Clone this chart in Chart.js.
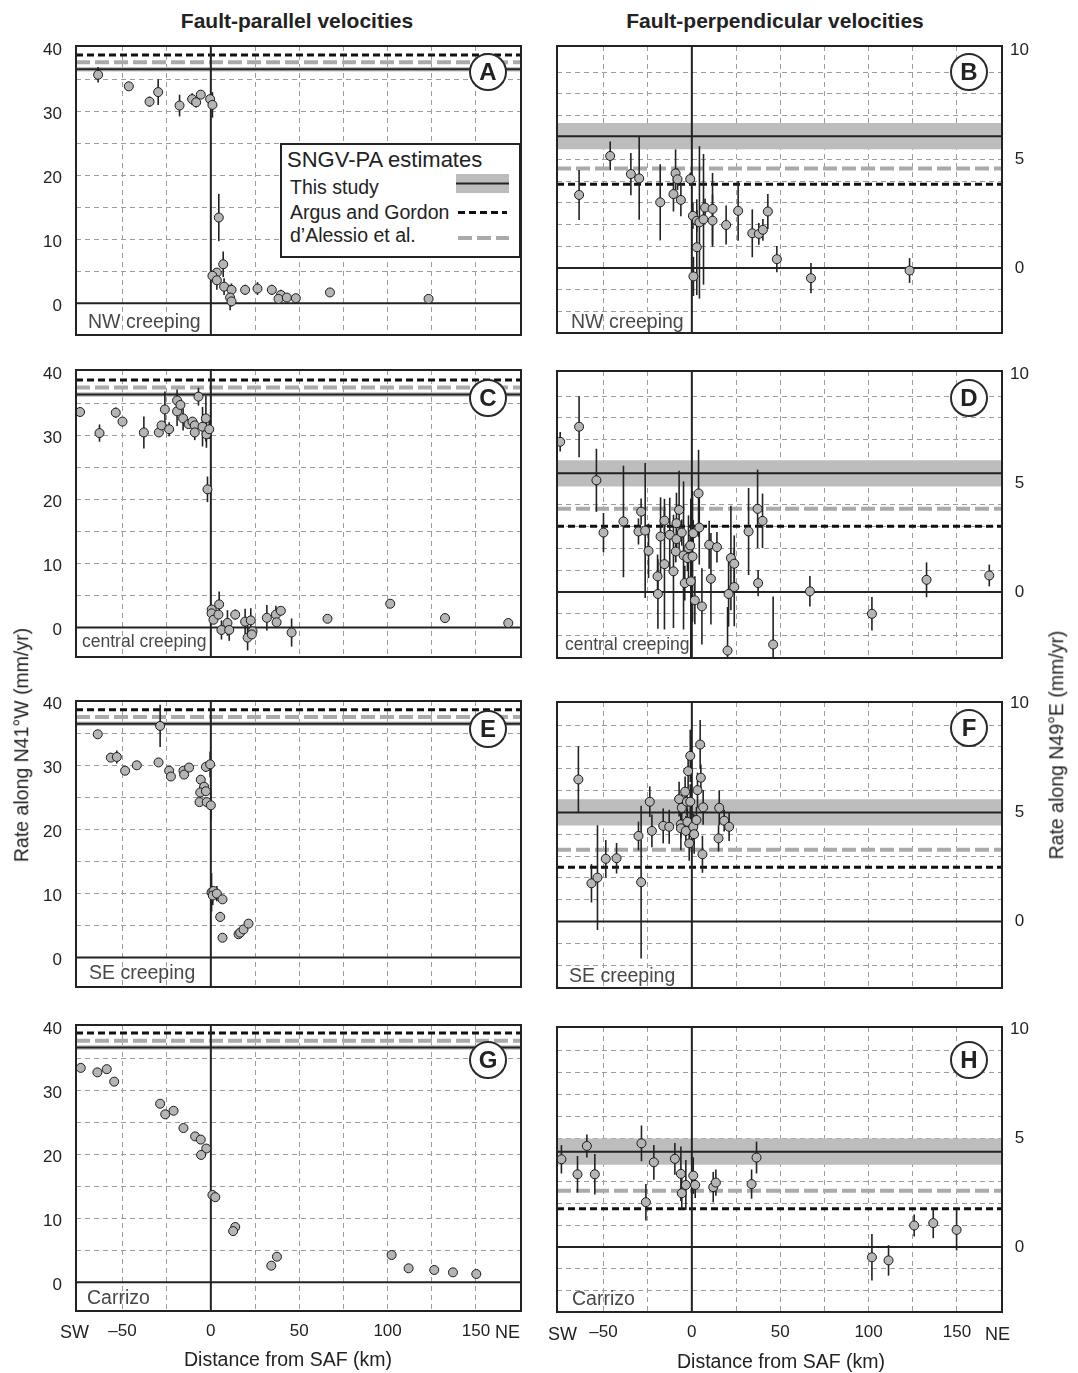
<!DOCTYPE html>
<html>
<head>
<meta charset="utf-8">
<script src="https://cdn.jsdelivr.net/npm/chart.js@4.4.1/dist/chart.umd.min.js"></script>
<style>
  body { margin: 0; background: #fff; width: 1078px; height: 1373px; position: relative; overflow: hidden;
         font-family: "Liberation Sans", Arial, sans-serif; color: #222; }
  canvas { position: absolute; z-index: 0; }
  .t { position: absolute; white-space: nowrap; line-height: 1; z-index: 2; }
  .title { font-weight: bold; font-size: 21px; transform: translate(-50%, -50%); }
  .ytitle { font-size: 19.5px; transform: translate(-50%, -50%) rotate(-90deg); }
  .xtitle { font-size: 19.5px; transform: translate(-50%, -50%); }
  .region { font-size: 19.5px; color: #484848; transform: translateY(-50%); }
  .dir { font-size: 18px; transform: translateY(-50%); }
  .badge { position: absolute; width: 34px; height: 34px; border: 2px solid #2a2a2a; border-radius: 50%;
           background: #fff; z-index: 2; transform: translate(-50%, -50%); font-weight: bold; font-size: 24px;
           display: flex; align-items: center; justify-content: center; }
  .legbox { position: absolute; left: 280px; top: 143px; width: 241px; height: 115px; box-sizing: border-box;
            border: 2px solid #222; background: #fff; z-index: 2; }
  .leg { font-size: 19.5px; transform: translateY(-50%); }
</style>
</head>
<body>

<div class="t title" style="left:297px;top:20px">Fault-parallel velocities</div>
<div class="t title" style="left:775px;top:20px">Fault-perpendicular velocities</div>
<div class="t ytitle" style="left:22px;top:745px">Rate along N41°W (mm/yr)</div>
<div class="t ytitle" style="left:1057px;top:745px">Rate along N49°E (mm/yr)</div>
<div class="t xtitle" style="left:288px;top:1360px">Distance from SAF (km)</div>
<div class="t xtitle" style="left:781px;top:1362px">Distance from SAF (km)</div>
<div class="t dir" style="left:60px;top:1332px">SW</div>
<div class="t dir" style="left:495px;top:1332px">NE</div>
<div class="t dir" style="left:548px;top:1334px">SW</div>
<div class="t dir" style="left:985px;top:1334px">NE</div>

<div class="t region" style="left:88px;top:322px">NW creeping</div>
<div class="t region" style="left:82px;top:642px;font-size:17.5px">central creeping</div>
<div class="t region" style="left:89px;top:973px">SE creeping</div>
<div class="t region" style="left:87px;top:1298px">Carrizo</div>
<div class="t region" style="left:571px;top:322px">NW creeping</div>
<div class="t region" style="left:565px;top:645px;font-size:17.5px">central creeping</div>
<div class="t region" style="left:569px;top:976px">SE creeping</div>
<div class="t region" style="left:572px;top:1299px">Carrizo</div>

<div class="badge" style="left:488px;top:72px">A</div>
<div class="badge" style="left:488px;top:398px">C</div>
<div class="badge" style="left:488px;top:729px">E</div>
<div class="badge" style="left:488px;top:1060px">G</div>
<div class="badge" style="left:969px;top:72px">B</div>
<div class="badge" style="left:969px;top:398px">D</div>
<div class="badge" style="left:969px;top:728px">F</div>
<div class="badge" style="left:969px;top:1060px">H</div>

<div class="legbox"></div>
<div class="t leg" style="left:287px;top:160px;font-size:22px">SNGV-PA estimates</div>
<div class="t leg" style="left:290px;top:188px">This study</div>
<div class="t leg" style="left:290px;top:213px">Argus and Gordon</div>
<div class="t leg" style="left:290px;top:236px">d’Alessio et al.</div>
<svg style="position:absolute;left:456px;top:172px;z-index:3" width="54" height="72">
  <rect x="0" y="2" width="53" height="19" fill="#bcbcbc"/>
  <line x1="0" y1="11.5" x2="53" y2="11.5" stroke="#222" stroke-width="2"/>
  <line x1="2" y1="40.5" x2="51" y2="40.5" stroke="#111" stroke-width="3" stroke-dasharray="7,4"/>
  <line x1="2" y1="66" x2="53" y2="66" stroke="#aaa" stroke-width="4" stroke-dasharray="14,5"/>
</svg>

<script>
// x axis (distance from SAF, km), shared by all panels
const xRange = [-76.3, 175.5];
const xTicks = [-50, -25, 0, 25, 50, 75, 100, 125, 150];
const xLabels = [-50, 0, 50, 100, 150];
const yLeftTicks = [0, 5, 10, 15, 20, 25, 30, 35, 40];
const yLeftLabels = [0, 10, 20, 30, 40];
const yRightTicks = [-2, -1, 0, 1, 2, 3, 4, 5, 6, 7, 8, 9, 10];
const yRightLabels = [0, 5, 10];

// SNGV-PA estimates per panel: A C E G (parallel), B D F H (perpendicular)
const parStudy = [36.56, 36.45, 36.56, 36.7];
const parArgus = [38.8, 38.7, 38.75, 38.95];
const parDAlessio = [37.66, 37.55, 37.6, 37.75];
const parBand = 0.35;
const perpStudy = [6.06, 5.45, 5.0, 4.38];
const perpArgus = [3.85, 3.02, 2.48, 1.76];
const perpDAlessio = [4.58, 3.82, 3.29, 2.58];
const perpBand = 0.6;

// A: NW creeping, fault-parallel
const aKm   = [-63.8, -46.4, -34.7, -29.8, -17.7, -10.6, -8.3, -5.7, -0.4, 0.9, 4.5, 7.0, 3.4, 0.9, 3.4, 7.5, 11.7, 10.9, 11.7, 19.4, 26.4, 34.5, 39.6, 38.3, 43.0, 48.1, 67.4, 123.2];
const aRate = [35.7, 33.9, 31.5, 33.0, 30.9, 31.9, 31.4, 32.6, 31.9, 31.0, 13.4, 6.1, 4.8, 4.3, 3.6, 2.6, 2.1, 0.9, 0.3, 2.1, 2.3, 2.1, 1.3, 0.7, 0.9, 0.8, 1.7, 0.7];
const aErr  = [1.2, 0, 0.8, 2.0, 1.7, 0.9, 0.8, 0.5, 0.5, 2.0, 3.7, 2.0, 0.5, 0.5, 1.5, 1.3, 1.0, 2.0, 0.8, 0.8, 1.0, 0.8, 0.8, 0, 0.5, 0.5, 0, 0];

// B: NW creeping, fault-perpendicular
const bKm   = [-63.8, -46.2, -34.5, -29.8, -17.9, -10.4, -9.2, -8.1, -6.2, -0.9, 0.6, 2.8, 2.8, 0.9, 4.3, 6.6, 7.5, 11.7, 11.7, 19.4, 26.2, 34.2, 37.9, 40.2, 43.0, 48.1, 67.4, 123.2];
const bRate = [3.36, 5.15, 4.32, 4.12, 3.02, 3.40, 4.35, 4.08, 3.13, 4.09, 2.40, 2.17, 0.96, -0.38, 2.10, 2.24, 2.78, 2.72, 2.18, 1.98, 2.63, 1.60, 1.57, 1.76, 2.60, 0.41, -0.46, -0.11];
const bErr  = [1.15, 0.66, 0.97, 1.9, 1.75, 0.8, 1.1, 0.5, 0.75, 0.3, 0.6, 0.5, 2.2, 0.9, 3.5, 3.0, 0.4, 1.65, 1.2, 0.9, 1.37, 1.1, 0.5, 0.5, 0.8, 0.6, 0.7, 0.57];

// C: central creeping, fault-parallel
const cKm   = [-74.0, -63.0, -53.8, -50.0, -37.9, -29.4, -27.9, -26.0, -23.6, -19.1, -19.1, -17.2, -15.7, -12.6, -10.4, -9.1, -9.1, -7.0, -4.7, -2.8, -2.5, -0.9, -1.9, 0.5, 0.4, 1.5, 4.7, 4.3, 6.0, 9.4, 10.4, 13.8, 19.4, 20.8, 22.6, 23.6, 23.2, 31.7, 36.8, 37.2, 39.6, 45.7, 66.0, 101.5, 132.5, 168.3];
const cRate = [33.7, 30.4, 33.6, 32.2, 30.5, 30.5, 31.6, 34.1, 31.0, 35.5, 33.8, 34.8, 32.7, 31.8, 32.2, 31.6, 30.5, 36.1, 31.4, 32.7, 30.2, 31.0, 21.6, 2.8, 2.2, 1.2, 3.6, 2.0, -0.4, 0.7, -0.4, 2.0, 0.9, -1.6, 1.1, -0.6, -1.1, 1.5, 2.0, 0.8, 2.6, -0.8, 1.35, 3.7, 1.46, 0.68];
const cErr  = [0, 1.35, 0.8, 0, 2.5, 0, 0, 2.8, 1.1, 1.7, 2.3, 0, 1.9, 0, 0, 0.5, 1.2, 1.4, 3.1, 3.6, 2.1, 1.5, 2.0, 0, 0, 0, 2.0, 0, 1.5, 2.0, 1.7, 0.8, 2.0, 2.0, 1.9, 0, 0, 2.0, 1.4, 0, 0, 2.2, 0, 0, 0, 0];

// D: central creeping, fault-perpendicular
const dKm   = [-74.5, -63.8, -54.0, -50.0, -38.7, -30.2, -28.7, -26.4, -24.5, -19.4, -19.2, -17.7, -15.5, -15.5, -12.5, -10.4, -9.1, -8.7, -8.7, -7.2, -5.7, -4.7, -4.0, -2.5, -1.9, -0.9, -0.6, 0.4, 0.8, 1.7, 3.8, 4.2, 5.7, 9.8, 10.8, 14.2, 20.2, 20.8, 22.1, 24.0, 24.0, 32.1, 37.2, 40.0, 37.5, 46.0, 66.8, 101.9, 132.8, 168.3];
const dRate = [6.9, 7.59, 5.13, 2.73, 3.24, 2.78, 3.69, 2.82, 1.89, 0.72, -0.09, 2.55, 1.28, 3.28, 2.63, 0.95, 1.86, 3.16, 2.43, 3.77, 2.73, 1.68, 0.41, 1.56, 2.02, 2.14, 0.49, 1.63, 2.7, -0.38, 4.53, 2.96, -0.66, 2.17, 0.61, 2.06, -2.69, -0.09, 1.56, 1.3, 0.23, 2.78, 3.82, 3.27, 0.41, -2.41, 0.03, -1.0, 0.56, 0.76];
const dErr  = [0.45, 1.4, 1.45, 0.9, 2.56, 0.6, 0.6, 3.1, 1.25, 1.0, 1.6, 1.8, 3.0, 0.5, 1.7, 2.6, 0.5, 1.4, 0.6, 1.8, 0.6, 3.4, 0.8, 0.6, 1.5, 0.5, 3.8, 3.0, 0.6, 1.1, 2.0, 1.7, 1.75, 1.1, 2.1, 0.7, 2.0, 1.5, 2.4, 1.3, 1.8, 2.0, 1.8, 1.25, 0.6, 2.2, 0.7, 0.77, 0.8, 0.5];

// E: SE creeping, fault-parallel
const eKm   = [-64.0, -56.6, -53.2, -48.5, -41.9, -29.6, -28.7, -23.6, -22.6, -15.5, -15.1, -12.3, -2.8, -0.4, -5.7, -3.8, -6.0, -2.8, -6.4, -2.3, 0.0, 0.4, 1.5, 1.1, 3.4, 6.6, 5.3, 6.6, 15.7, 16.6, 18.5, 21.3];
const eRate = [34.9, 31.25, 31.35, 29.2, 30.05, 30.5, 36.2, 29.2, 28.3, 29.2, 28.6, 29.7, 29.8, 30.2, 27.8, 26.7, 25.8, 26.0, 24.3, 24.3, 23.8, 10.2, 10.4, 9.7, 10.0, 9.1, 6.35, 3.1, 3.65, 3.9, 4.4, 5.3];
const eErr  = [0.5, 0, 1.0, 0, 0, 0, 3.3, 0, 0, 0, 0, 0, 0.8, 2.0, 0, 0, 1.0, 0, 0, 0, 2.3, 3.0, 0, 1.5, 1.2, 0, 0.8, 0, 0, 0, 0, 0];

// F: SE creeping, fault-perpendicular
const fKm   = [-64.2, -56.8, -53.4, -48.7, -42.6, -30.2, -28.7, -23.8, -22.6, -16.2, -12.8, -7.2, -6.2, -6.2, -5.7, -3.8, -3.4, -2.8, -2.1, -0.9, -0.9, -1.5, -2.5, 0.8, 1.3, 2.6, 3.2, 4.7, 5.1, 6.4, 6.0, 15.5, 18.3, 21.1, 15.1];
const fRate = [6.51, 1.75, 2.01, 2.87, 2.9, 3.92, 1.8, 5.49, 4.15, 4.38, 4.34, 5.61, 4.45, 4.27, 5.21, 5.95, 4.15, 5.49, 6.89, 7.59, 5.49, 3.58, 4.57, 4.34, 4.0, 4.65, 6.02, 8.11, 6.59, 5.23, 3.08, 5.21, 4.62, 4.34, 3.81];
const fErr  = [1.52, 0.88, 2.4, 0.86, 0.7, 0.66, 3.5, 0.7, 0.75, 0.8, 0.78, 0.8, 0.6, 1.0, 0.6, 0.7, 0.7, 0.6, 0.8, 1.2, 0.8, 0.8, 0.6, 0.6, 0.9, 0.6, 0.8, 1.12, 0.6, 0.8, 0.85, 0.8, 0.5, 0.65, 0.6];

// G: Carrizo, fault-parallel
const gKm   = [-73.6, -64.2, -58.9, -54.7, -28.7, -25.8, -21.1, -15.5, -8.9, -5.7, -2.6, -5.5, 0.9, 2.5, 13.8, 12.6, 37.4, 34.2, 102.3, 111.9, 126.4, 137.0, 150.2];
const gRate = [33.5, 32.8, 33.3, 31.35, 27.9, 26.25, 26.8, 24.1, 22.8, 22.3, 20.9, 19.9, 13.65, 13.3, 8.65, 8.0, 4.0, 2.6, 4.27, 2.19, 1.93, 1.56, 1.3];
const gErr  = [0, 0, 0, 0, 0, 0, 0, 0, 0, 0, 0, 0, 0, 0, 0, 0, 0, 0, 0, 0, 0, 0, 0];

// H: Carrizo, fault-perpendicular
const hKm   = [-73.8, -64.7, -59.4, -54.9, -28.5, -26.0, -21.5, -9.6, -6.2, -5.7, -3.4, 0.8, 1.9, 12.1, 13.6, 33.8, 36.6, 101.9, 111.3, 125.8, 136.6, 149.8];
const hRate = [4.03, 3.34, 4.64, 3.34, 4.76, 2.06, 3.89, 4.05, 3.36, 2.47, 2.85, 3.28, 2.85, 2.75, 2.96, 2.89, 4.11, -0.47, -0.61, 0.99, 1.1, 0.79];
const hErr  = [0.65, 0.84, 0.53, 0.93, 0.82, 0.84, 0.8, 0.73, 1.25, 0.73, 1.15, 0.84, 0.6, 0.7, 0.6, 0.67, 0.73, 1.07, 0.7, 0.5, 0.69, 0.95];

const panels = [
  { side: 'L', top: 46,   bottom: 335,  y: [-4.95, 40.2],  km: aKm, rate: aRate, err: aErr, ref: 0 },
  { side: 'L', top: 370,  bottom: 657,  y: [-4.63, 40.27], km: cKm, rate: cRate, err: cErr, ref: 1 },
  { side: 'L', top: 701,  bottom: 987,  y: [-4.6, 40.1],   km: eKm, rate: eRate, err: eErr, ref: 2 },
  { side: 'L', top: 1025, bottom: 1311, y: [-4.48, 40.2],  km: gKm, rate: gRate, err: gErr, ref: 3, axis: true },
  { side: 'R', top: 46,   bottom: 333,  y: [-2.98, 10.2],  km: bKm, rate: bRate, err: bErr, ref: 0 },
  { side: 'R', top: 371,  bottom: 658,  y: [-3.03, 10.15], km: dKm, rate: dRate, err: dErr, ref: 1 },
  { side: 'R', top: 702,  bottom: 988,  y: [-3.05, 10.06], km: fKm, rate: fRate, err: fErr, ref: 2 },
  { side: 'R', top: 1027, bottom: 1312, y: [-2.98, 10.1],  km: hKm, rate: hRate, err: hErr, ref: 3, axis: true }
];

const FONT = { family: 'Liberation Sans, Arial, sans-serif', size: 17 };
const GRID = '#9c9c9c';

// error bars go under the station markers, frame on top of everything
const errorBars = {
  id: 'errorBars',
  beforeDatasetDraw(chart, args) {
    const ds = chart.data.datasets[args.index];
    if (!ds.errs) return;
    const { ctx, chartArea: a, scales: { x, y } } = chart;
    ctx.save();
    ctx.beginPath();
    ctx.rect(a.left, a.top, a.width, a.height);
    ctx.clip();
    ctx.strokeStyle = '#222';
    ctx.lineWidth = 1.6;
    ds.data.forEach((p, i) => {
      const e = ds.errs[i];
      if (!e) return;
      const px = x.getPixelForValue(p.x);
      ctx.beginPath();
      ctx.moveTo(px, y.getPixelForValue(p.y - e));
      ctx.lineTo(px, y.getPixelForValue(p.y + e));
      ctx.stroke();
    });
    ctx.restore();
  },
  afterDraw(chart) {
    const { ctx, chartArea: a } = chart;
    ctx.save();
    ctx.strokeStyle = '#222';
    ctx.lineWidth = 2;
    ctx.strokeRect(a.left, a.top, a.width, a.height);
    ctx.restore();
  }
};

function hline(v, color, width, dash, order) {
  return { data: [{ x: xRange[0], y: v }, { x: xRange[1], y: v }], showLine: true, borderColor: color,
           borderWidth: width, borderDash: dash, pointRadius: 0, order: order, fill: false };
}

// keep tick labels from pushing the plot area inwards
function noPad(s) {
  s.paddingLeft = 0; s.paddingRight = 0; s.paddingTop = 0; s.paddingBottom = 0;
}

function makePanel(p) {
  const left = p.side === 'L';
  const w = left ? 530 : 538;
  const padTop = 6;
  const padBot = p.axis ? 0 : 6;
  const axisH = p.axis ? 40 : 0;
  const h = (p.bottom - p.top) + padTop + padBot + axisH;
  const c = document.createElement('canvas');
  c.width = w; c.height = h;
  c.style.left = (left ? 0 : 540) + 'px';
  c.style.top = (p.top - padTop) + 'px';
  document.body.insertBefore(c, document.body.firstChild);

  const study = left ? parStudy[p.ref] : perpStudy[p.ref];
  const argus = left ? parArgus[p.ref] : perpArgus[p.ref];
  const dal = left ? parDAlessio[p.ref] : perpDAlessio[p.ref];
  const band = left ? parBand : perpBand;
  const yTicks = left ? yLeftTicks : yRightTicks;
  const yLabs = left ? yLeftLabels : yRightLabels;
  const yTop = left ? 40 : 10;

  const stations = {
    data: p.km.map((k, i) => ({ x: k, y: p.rate[i] })),
    errs: p.err,
    pointRadius: 4.5, pointBackgroundColor: '#b5b5b5', pointBorderColor: '#1a1a1a', pointBorderWidth: 1,
    showLine: false, order: 0
  };
  const bandLo = hline(study - band, 'rgba(0,0,0,0)', 0, [], 5);
  bandLo.fill = '+1';
  bandLo.backgroundColor = '#bdbdbd';
  const bandHi = hline(study + band, 'rgba(0,0,0,0)', 0, [], 5);

  new Chart(c, {
    type: 'scatter',
    data: {
      datasets: [
        stations,
        hline(0, '#222', 2, [], 1),
        { data: [{ x: 0, y: p.y[0] }, { x: 0, y: p.y[1] }], showLine: true, borderColor: '#222', borderWidth: 2, pointRadius: 0, order: 1 },
        hline(argus, '#111', 3, [7, 4], 2),
        hline(dal, '#aaaaaa', 4, [14, 5], 3),
        hline(study, '#222', 2, [], 4),
        bandLo,
        bandHi
      ]
    },
    options: {
      responsive: false,
      devicePixelRatio: 1,
      animation: false,
      events: [],
      layout: { autoPadding: false, padding: { left: left ? 0 : 17, right: left ? 9 : 0, top: padTop, bottom: padBot } },
      plugins: { legend: { display: false }, tooltip: { enabled: false } },
      scales: {
        x: {
          type: 'linear', min: xRange[0], max: xRange[1],
          afterBuildTicks: s => { s.ticks = xTicks.map(v => ({ value: v })); },
          afterFit: s => { s.height = axisH; noPad(s); },
          grid: { color: GRID, lineWidth: 1, drawTicks: false },
          border: { display: false, dash: [5, 4] },
          ticks: {
            display: !!p.axis, autoSkip: false, maxRotation: 0, padding: 10, font: FONT, color: '#222',
            callback: v => xLabels.includes(v) ? (v < 0 ? '\u2013' + Math.abs(v) : String(v)) : ''
          }
        },
        y: {
          type: 'linear', position: left ? 'left' : 'right', min: p.y[0], max: p.y[1],
          afterBuildTicks: s => { s.ticks = yTicks.map(v => ({ value: v })); },
          afterFit: s => { s.width = 76; noPad(s); },
          grid: { color: ctx => (ctx.tick && ctx.tick.value === yTop) ? 'rgba(0,0,0,0)' : GRID, lineWidth: 1, drawTicks: false },
          border: { display: false, dash: [5, 4] },
          ticks: {
            autoSkip: false, padding: left ? 14 : 8, font: FONT, color: '#222', labelOffset: left ? 3 : 0,
            crossAlign: left ? 'near' : 'center',
            callback: v => yLabs.includes(v) ? String(v) : ''
          }
        }
      }
    },
    plugins: [errorBars]
  });
}

panels.forEach(makePanel);
</script>
</body>
</html>
